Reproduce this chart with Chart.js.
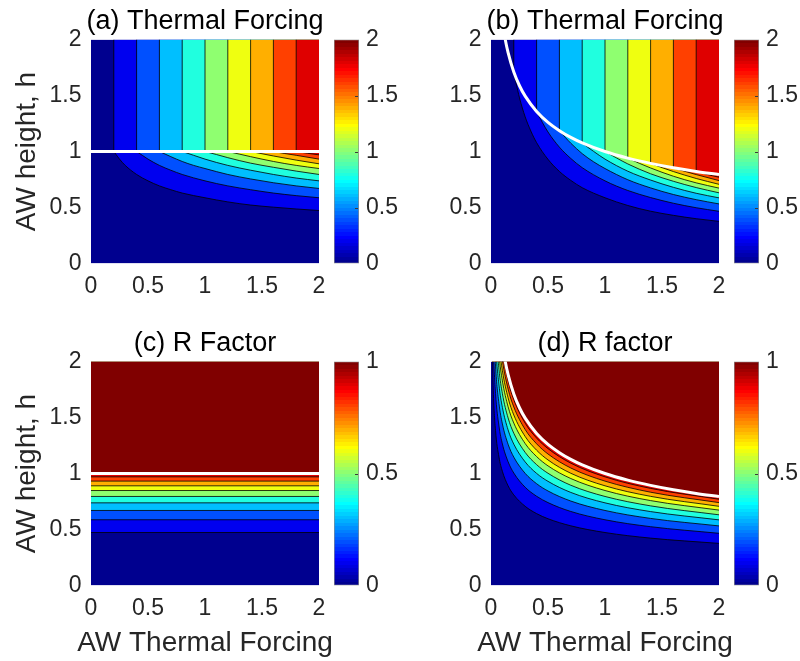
<!DOCTYPE html>
<html>
<head>
<meta charset="utf-8">
<script src="https://cdn.jsdelivr.net/npm/chart.js@4.4.1/dist/chart.umd.min.js"></script>
<style>
html,body{margin:0;padding:0;background:#fff;}
#wrap{position:relative;width:800px;height:661px;overflow:hidden;background:#fff;}
#wrap canvas{position:absolute;}
</style>
</head>
<body>
<div id="wrap"></div>
<script>
// ---------------- DATA ----------------
const axisTicks = [0, 0.5, 1, 1.5, 2];          // AW thermal forcing / AW height ticks
const tfBarTicks = [0, 0.5, 1, 1.5, 2];          // colour bar (a),(b)
const rBarTicks = [0, 0.5, 1];                   // colour bar (c),(d)
const tfLevels = [0.2, 0.4, 0.6, 0.8, 1.0, 1.2, 1.4, 1.6, 1.8];
const rLevels  = [0.1, 0.2, 0.3, 0.4, 0.5, 0.6, 0.7, 0.8, 0.9];

// (a) contours of thermal forcing below h = 1, points [TF, h]
const aContours = [
  [[0.2,1.0],[0.22,0.973],[0.25,0.932],[0.3,0.876],[0.4,0.795],[0.5,0.738],[0.6,0.693],[0.7,0.659],[0.8,0.629],[1.0,0.587],[1.2,0.550],[1.4,0.522],[1.6,0.503],[1.8,0.487],[2.0,0.473]],
  [[0.4,1.0],[0.45,0.966],[0.5,0.932],[0.6,0.876],[0.7,0.833],[0.8,0.795],[1.0,0.738],[1.2,0.693],[1.4,0.659],[1.6,0.629],[1.8,0.606],[2.0,0.587]],
  [[0.6,1.0],[0.65,0.977],[0.7,0.954],[0.8,0.911],[0.9,0.876],[1.0,0.848],[1.2,0.795],[1.4,0.755],[1.6,0.721],[1.8,0.693],[2.0,0.670]],
  [[0.8,1.0],[0.9,0.966],[1.0,0.932],[1.2,0.876],[1.4,0.833],[1.6,0.795],[1.8,0.763],[2.0,0.738]],
  [[1.0,1.0],[1.1,0.973],[1.2,0.945],[1.4,0.896],[1.6,0.859],[1.8,0.825],[2.0,0.795]],
  [[1.2,1.0],[1.3,0.977],[1.4,0.954],[1.6,0.911],[1.8,0.876],[2.0,0.848]],
  [[1.4,1.0],[1.5,0.980],[1.6,0.960],[1.8,0.923],[2.0,0.890]],
  [[1.6,1.0],[1.7,0.982],[1.8,0.966],[2.0,0.932]],
  [[1.8,1.0],[1.9,0.984],[2.0,0.970]]
];
const aCritical = [[0, 1.0], [2, 1.0]];

// (b) contours of thermal forcing below the critical curve, points [TF, h]
const bContours = [
  [[0.2,1.710],[0.22,1.612],[0.25,1.479],[0.3,1.309],[0.35,1.182],[0.4,1.079],[0.5,0.930],[0.6,0.822],[0.7,0.742],[0.8,0.677],[1.0,0.587],[1.2,0.518],[1.4,0.467],[1.6,0.430],[1.8,0.400],[2.0,0.376]],
  [[0.4,1.357],[0.45,1.261],[0.5,1.174],[0.6,1.039],[0.7,0.938],[0.8,0.856],[1.0,0.738],[1.2,0.652],[1.4,0.589],[1.6,0.538],[1.8,0.498],[2.0,0.466]],
  [[0.6,1.186],[0.65,1.128],[0.7,1.074],[0.8,0.981],[0.9,0.908],[1.0,0.848],[1.2,0.748],[1.4,0.675],[1.6,0.616],[1.8,0.570],[2.0,0.532]],
  [[0.8,1.077],[0.85,1.037],[0.9,1.001],[1.0,0.932],[1.2,0.824],[1.4,0.745],[1.6,0.680],[1.8,0.627],[2.0,0.586]],
  [[1.0,1.0],[1.1,0.943],[1.2,0.889],[1.4,0.801],[1.6,0.734],[1.8,0.678],[2.0,0.631]],
  [[1.2,0.941],[1.3,0.895],[1.4,0.853],[1.6,0.779],[1.8,0.720],[2.0,0.673]],
  [[1.4,0.894],[1.5,0.856],[1.6,0.821],[1.8,0.759],[2.0,0.707]],
  [[1.6,0.855],[1.7,0.823],[1.8,0.794],[2.0,0.740]],
  [[1.8,0.822],[1.9,0.794],[2.0,0.770]]
];
// white critical curve of (b) and (d)
const critX = [0.1, 0.12, 0.15, 0.2, 0.25, 0.3, 0.4, 0.5, 0.6, 0.7, 0.8, 1.0, 1.2, 1.4, 1.6, 1.8, 2.0];
const critH = [2.154, 2.027, 1.882, 1.710, 1.587, 1.494, 1.357, 1.260, 1.186, 1.126, 1.077, 1.0, 0.941, 0.894, 0.855, 0.822, 0.794];

// (c) R factor: heights of the contour levels 0.1 ... 0.9 (horizontal)
const cHeights = [0.473, 0.587, 0.670, 0.738, 0.795, 0.848, 0.890, 0.932, 0.970];
const cCritical = 1.0;

// (d) R factor contours: h at the TF values dX, one row per level 0.1 ... 0.9
const dX = [0.01, 0.02, 0.04, 0.07, 0.1, 0.15, 0.2, 0.3, 0.4, 0.5, 0.7, 1.0, 1.4, 2.0];
const dContours = [
  [2.196,1.743,1.383,1.147,1.019,0.890,0.809,0.707,0.642,0.596,0.533,0.473,0.423,0.376],
  [2.725,2.163,1.716,1.424,1.264,1.105,1.004,0.877,0.797,0.740,0.661,0.587,0.525,0.466],
  [3.110,2.468,1.959,1.625,1.443,1.261,1.146,1.001,0.909,0.844,0.754,0.670,0.599,0.532],
  [3.426,2.719,2.158,1.790,1.590,1.389,1.262,1.103,1.001,0.930,0.831,0.738,0.660,0.586],
  [3.690,2.929,2.325,1.929,1.712,1.496,1.359,1.188,1.079,1.002,0.895,0.795,0.711,0.631],
  [3.936,3.124,2.480,2.057,1.827,1.596,1.450,1.267,1.151,1.068,0.955,0.848,0.758,0.673],
  [4.131,3.279,2.602,2.159,1.917,1.675,1.522,1.330,1.208,1.121,1.002,0.890,0.796,0.707],
  [4.326,3.433,2.725,2.261,2.008,1.754,1.594,1.392,1.265,1.174,1.049,0.932,0.833,0.740],
  [4.503,3.573,2.836,2.353,2.089,1.826,1.659,1.449,1.316,1.222,1.092,0.970,0.867,0.770]
];

// ---------------- STYLE ----------------
const FONT = '"Liberation Sans", Arial, Helvetica, sans-serif';
const TXT = '#262626';

function jet64() {
  const n = 16, m = 64, u = [];
  for (let i = 1; i <= n; i++) u.push(i / n);
  for (let i = 0; i < n - 1; i++) u.push(1);
  for (let i = n; i >= 1; i--) u.push(i / n);
  const cols = [];
  for (let k = 0; k < m; k++) cols.push([0, 0, 0]);
  u.forEach((v, i) => {
    const k = i + 1, gi = 8 + k, ri = 24 + k, bi = -8 + k;
    if (gi >= 1 && gi <= m) cols[gi - 1][1] = v;
    if (ri >= 1 && ri <= m) cols[ri - 1][0] = v;
    if (bi >= 1 && bi <= m) cols[bi - 1][2] = v;
  });
  return cols.map(c => `rgb(${Math.round(c[0]*255)},${Math.round(c[1]*255)},${Math.round(c[2]*255)})`);
}
const JET = jet64();
function levelColor(v, vmax) {
  return JET[Math.min(63, Math.floor(v / vmax * 64 + 1e-9))];
}
const fmt = v => String(v);

const wrap = document.getElementById('wrap');
function mkCanvas(left, top, w, h) {
  const c = document.createElement('canvas');
  c.width = w; c.height = h;
  c.style.left = left + 'px'; c.style.top = top + 'px';
  c.style.width = w + 'px'; c.style.height = h + 'px';
  wrap.appendChild(c);
  return c;
}

const P = a => a.map(p => ({x: p[0], y: p[1]}));
const lineBase = {showLine: true, pointRadius: 0, pointHoverRadius: 0, clip: 0};

function background(order) {
  return {...lineBase, data: [{x: 0, y: 2}, {x: 2, y: 2}], fill: 'start',
    backgroundColor: levelColor(0, 1), borderColor: 'rgba(0,0,0,0)', borderWidth: 0, order: order};
}
function region(points, color, order, curve) {
  return {...lineBase, data: points, fill: 'end', backgroundColor: color,
    borderColor: '#000', borderWidth: 0.8,
    cubicInterpolationMode: curve ? 'monotone' : 'default', tension: 0, order: order};
}
function vline(x, y0) {
  return {...lineBase, data: [{x: x, y: y0}, {x: x, y: 2}], fill: false,
    borderColor: '#000', borderWidth: 0.8, order: 5};
}
function whiteLine(points, curve) {
  return {...lineBase, data: points, fill: false, borderColor: '#fff', borderWidth: 3,
    cubicInterpolationMode: curve ? 'monotone' : 'default', order: 0};
}

const ROW_H = [310, 339];
function contourChart(canvas, title, showX, showY, datasets, rowIdx) {
  const H = ROW_H[rowIdx];
  return new Chart(canvas, {
    type: 'scatter',
    data: {datasets: datasets},
    options: {
      responsive: false, animation: false, devicePixelRatio: 1, events: [],
      layout: {padding: {left: 0, right: 0, top: 0, bottom: showX ? 0.6 : 0}},
      elements: {line: {capBezierPoints: false}},
      plugins: {
        legend: {display: false}, tooltip: {enabled: false},
        title: {display: true, text: title, fullSize: true, color: '#000',
          font: {family: FONT, size: 27, weight: 'normal'}, padding: {top: 5.8, bottom: 1.3}},
        subtitle: {display: showX, text: 'AW Thermal Forcing', position: 'bottom', fullSize: true,
          color: TXT, font: {family: FONT, size: 28, weight: 'normal'}, padding: {top: 1.3, bottom: 0}}
      },
      scales: {
        x: {type: 'linear', min: axisTicks[0], max: axisTicks[axisTicks.length - 1],
          afterBuildTicks: s => { s.ticks = axisTicks.map(v => ({value: v})); },
          ticks: {padding: 9.5, color: TXT, font: {family: FONT, size: 23}, autoSkip: false, maxRotation: 0, callback: fmt},
          grid: {display: false, drawTicks: false}, border: {display: false},
          afterFit: s => { s.height = showX ? 40 : H - 263.5; }},
        y: {type: 'linear', position: 'left', min: axisTicks[0], max: axisTicks[axisTicks.length - 1],
          afterBuildTicks: s => { s.ticks = axisTicks.map(v => ({value: v})); },
          ticks: {padding: 9.5, color: TXT, font: {family: FONT, size: 23}, autoSkip: false, callback: fmt},
          grid: {display: false, drawTicks: false}, border: {display: false},
          title: {display: showY, text: 'AW height, h', color: TXT,
            font: {family: FONT, size: 28}, padding: {top: 10.2, bottom: 0}},
          afterFit: s => { s.width = 91; }},
        // empty spacer on the right so the title is centred over the plot
        yspace: {type: 'linear', position: 'right', min: 0, max: 1,
          ticks: {display: false}, grid: {display: false, drawTicks: false}, border: {display: false},
          afterFit: s => { s.width = 91; }}
      }
    }
  });
}

const cbTickMarks = {
  id: 'cbTickMarks',
  afterDatasetsDraw(chart) {
    const {ctx, chartArea: a, scales: {y}} = chart;
    ctx.save();
    ctx.strokeStyle = '#3a3a3a'; ctx.lineWidth = 1;
    y.ticks.forEach(t => {
      if (t.value <= y.min || t.value >= y.max) return;
      const py = Math.round(y.getPixelForValue(t.value)) + 0.5;
      ctx.beginPath(); ctx.moveTo(a.right - 4, py); ctx.lineTo(a.right - 1, py); ctx.stroke();
    });
    ctx.restore();
  }
};

function colorBar(canvas, ticks, rowIdx) {
  const H = ROW_H[rowIdx];
  const vmax = ticks[ticks.length - 1];
  return new Chart(canvas, {
    type: 'bar',
    data: {labels: [''], datasets: [{
      data: [[ticks[0], vmax]],
      backgroundColor: ctx => {
        const ch = ctx.chart, a = ch.chartArea;
        if (!a) return '#000080';
        const g = ch.ctx.createLinearGradient(0, a.bottom, 0, a.top);
        JET.forEach((c, i) => { g.addColorStop(i / 64, c); g.addColorStop((i + 1) / 64 - 1e-6, c); });
        g.addColorStop(1, JET[63]);
        return g;
      },
      borderColor: '#8c8c8c', borderWidth: 1, borderSkipped: false,
      barPercentage: 1, categoryPercentage: 1
    }]},
    options: {
      responsive: false, animation: false, devicePixelRatio: 1, events: [],
      layout: {padding: {left: 4, right: 0, top: 39.5, bottom: H - 263.5}},
      plugins: {legend: {display: false}, tooltip: {enabled: false}},
      scales: {
        x: {display: false},
        y: {position: 'right', min: ticks[0], max: vmax,
          afterBuildTicks: s => { s.ticks = ticks.map(v => ({value: v})); },
          ticks: {padding: 7, color: TXT, font: {family: FONT, size: 23}, autoSkip: false, callback: fmt},
          grid: {display: false, drawTicks: false}, border: {display: false},
          afterFit: s => { s.width = 41; }}
      }
    },
    plugins: [cbTickMarks]
  });
}

// ---------------- PANEL (a) ----------------
(function () {
  const ds = [background(1000)];
  aContours.forEach((c, k) => {
    ds.push(region(P(c), levelColor(tfLevels[k], 2), 900 - k, true));
    ds.push(vline(c[0][0], c[0][1]));
  });
  ds.push(whiteLine(P(aCritical), false));
  contourChart(mkCanvas(0, 0, 410, ROW_H[0]), '(a) Thermal Forcing', false, true, ds, 0);
})();

// ---------------- PANEL (b) ----------------
(function () {
  const ds = [background(1000)];
  bContours.forEach((c, k) => {
    ds.push(region(P(c), levelColor(tfLevels[k], 2), 900 - k, true));
    ds.push(vline(c[0][0], c[0][1]));
  });
  ds.push(whiteLine(critX.map((x, i) => ({x: x, y: critH[i]})), true));
  contourChart(mkCanvas(400, 0, 410, ROW_H[0]), '(b) Thermal Forcing', false, false, ds, 0);
})();

// ---------------- PANEL (c) ----------------
(function () {
  const ds = [background(1000)];
  cHeights.forEach((h, k) => {
    ds.push(region([{x: 0, y: h}, {x: 2, y: h}], levelColor(rLevels[k], 1), 900 - k, false));
  });
  const top = region([{x: 0, y: cCritical}, {x: 2, y: cCritical}], levelColor(1, 1), 800, false);
  top.borderColor = 'rgba(0,0,0,0)';
  ds.push(top);
  ds.push(whiteLine([{x: 0, y: cCritical}, {x: 2, y: cCritical}], false));
  contourChart(mkCanvas(0, 322, 410, ROW_H[1]), '(c) R Factor', true, true, ds, 1);
})();

// ---------------- PANEL (d) ----------------
(function () {
  const ds = [background(1000)];
  dContours.forEach((row, k) => {
    ds.push(region(dX.map((x, i) => ({x: x, y: row[i]})), levelColor(rLevels[k], 1), 900 - k, true));
  });
  const crit = critX.map((x, i) => ({x: x, y: critH[i]}));
  const top = region(crit, levelColor(1, 1), 800, true);
  top.borderColor = 'rgba(0,0,0,0)';
  ds.push(top);
  ds.push(whiteLine(crit, true));
  contourChart(mkCanvas(400, 322, 410, ROW_H[1]), '(d) R factor', true, false, ds, 1);
})();

// ---------------- COLOUR BARS ----------------
colorBar(mkCanvas(330, 0, 70, ROW_H[0]), tfBarTicks, 0);
colorBar(mkCanvas(730, 0, 70, ROW_H[0]), tfBarTicks, 0);
colorBar(mkCanvas(330, 322, 70, ROW_H[1]), rBarTicks, 1);
colorBar(mkCanvas(730, 322, 70, ROW_H[1]), rBarTicks, 1);
</script>
</body>
</html>
